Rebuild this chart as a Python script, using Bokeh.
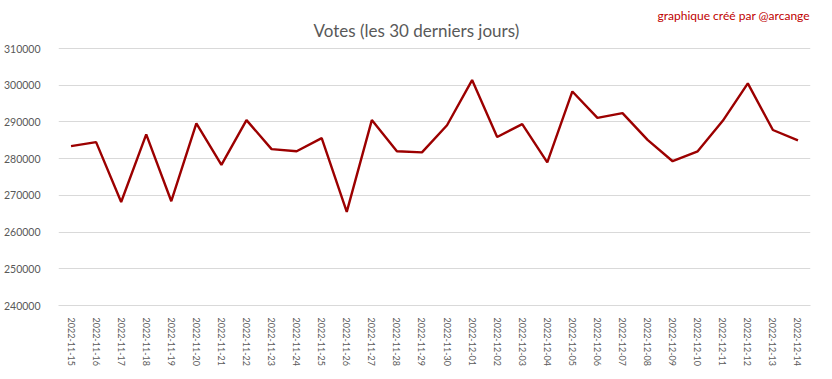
from bokeh.plotting import figure
from bokeh.models import FactorRange, Range1d, FixedTicker, NumeralTickFormatter, Label
from bokeh.embed import file_html
from bokeh.resources import INLINE

dates = ["2022-11-15", "2022-11-16", "2022-11-17", "2022-11-18", "2022-11-19", "2022-11-20",
         "2022-11-21", "2022-11-22", "2022-11-23", "2022-11-24", "2022-11-25", "2022-11-26",
         "2022-11-27", "2022-11-28", "2022-11-29", "2022-11-30", "2022-12-01", "2022-12-02",
         "2022-12-03", "2022-12-04", "2022-12-05", "2022-12-06", "2022-12-07", "2022-12-08",
         "2022-12-09", "2022-12-10", "2022-12-11", "2022-12-12", "2022-12-13", "2022-12-14"]
votes = [283400, 284500, 268200, 286600, 268400, 289600,
         278300, 290500, 282600, 282000, 285600, 265500,
         290500, 282000, 281700, 289100, 301400, 285900,
         289400, 279000, 298300, 291100, 292400, 285100,
         279300, 282000, 290300, 300500, 287800, 285000]
y_ticks = [240000, 250000, 260000, 270000, 280000, 290000, 300000, 310000]
title_text = "Votes (les 30 derniers jours)"
credit_text = "graphique créé par @arcange"

FONT = "Lato"
GREY = "#595959"

# plot area: 257 px for the 240000-310000 span, plus 40 px of headroom for the titles
PX_PER_UNIT = 257 / (y_ticks[-1] - y_ticks[0])
y_top = y_ticks[-1] + 40 / PX_PER_UNIT

p = figure(x_range=FactorRange(*dates), y_range=Range1d(y_ticks[0], y_top),
           width=816, height=368, output_backend="svg", toolbar_location=None,
           min_border_left=49, min_border_right=6, min_border_top=8, min_border_bottom=63)
p.outline_line_color = None
p.background_fill_color = "white"
p.border_fill_color = "white"

p.add_layout(Label(x=255, y=275, x_units="screen", y_units="screen", text=title_text,
                   text_align="left", text_baseline="alphabetic", text_font=FONT,
                   text_font_size="17px", text_color=GREY))
p.add_layout(Label(x=599, y=290, x_units="screen", y_units="screen", text=credit_text,
                   text_align="left", text_baseline="alphabetic", text_font=FONT,
                   text_font_size="12px", text_color="#c00000"))

p.line(dates, votes, line_color="#9c0000", line_width=2.4)

p.xgrid.grid_line_color = None
p.ygrid.grid_line_color = "#d9d9d9"
p.ygrid.grid_line_width = 1

p.yaxis.ticker = FixedTicker(ticks=y_ticks)
p.yaxis.formatter = NumeralTickFormatter(format="0")
p.yaxis.axis_line_color = None
p.yaxis.major_tick_line_color = None
p.yaxis.minor_tick_line_color = None
p.yaxis.major_label_standoff = 12
p.yaxis.major_label_text_font = FONT
p.yaxis.major_label_text_font_size = "10.5px"
p.yaxis.major_label_text_color = GREY

p.xaxis.axis_line_color = "#d9d9d9"
p.xaxis.major_tick_line_color = None
p.xaxis.minor_tick_line_color = None
p.xaxis.major_label_orientation = "vertical"
p.xaxis.major_label_standoff = 6
p.xaxis.major_label_text_font = FONT
p.xaxis.major_label_text_font_size = "9px"
p.xaxis.major_label_text_color = GREY

open("out.html", "w").write(file_html(p, INLINE))
